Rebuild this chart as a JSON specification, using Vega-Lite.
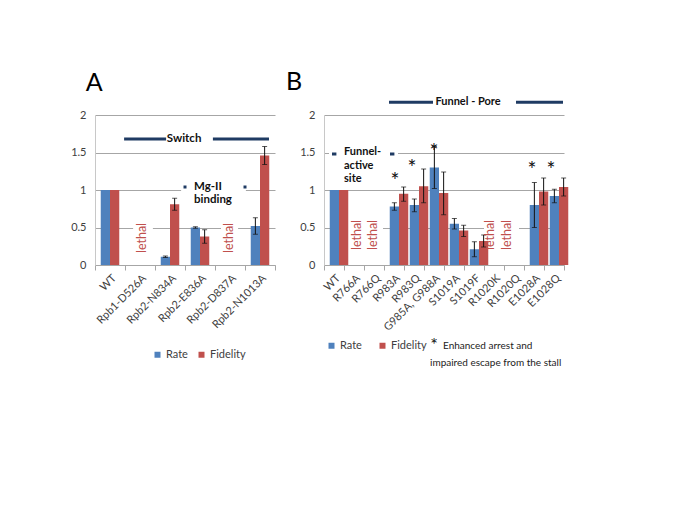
{
  "$schema": "https://vega.github.io/schema/vega-lite/v6.json",
  "padding": {"left": 70, "top": 70, "right": 5, "bottom": 5},
  "background": "white",
  "config": {
    "view": {"stroke": null},
    "font": "Lato",
    "axisY": {"values": [0, 0.5, 1, 1.5, 2], "format": "~g", "grid": true, "gridColor": "#A6A6A6", "domainColor": "#C8C8C8", "ticks": false, "labelPadding": 9, "labelFontSize": 11, "labelColor": "#404040", "title": null},
    "axisX": {"tickBand": "extent", "domainColor": "#A6A6A6", "tickColor": "#A6A6A6", "tickSize": 5, "labelAngle": -45, "labelFontSize": 11, "labelColor": "#404040", "title": null, "grid": false},
    "legend": {"padding": 0, "symbolType": "square", "symbolSize": 36, "symbolStrokeWidth": 0, "labelFontSize": 11, "labelColor": "#404040", "title": null, "orient": "none", "direction": "horizontal"}
  },
  "datasets": {
    "barsA": [
      {"mut": "WT", "series": "Rate", "value": 1},
      {"mut": "WT", "series": "Fidelity", "value": 1},
      {"mut": "Rpb2-N834A", "series": "Rate", "value": 0.11, "lo": 0.10, "hi": 0.12},
      {"mut": "Rpb2-N834A", "series": "Fidelity", "value": 0.81, "lo": 0.73, "hi": 0.89},
      {"mut": "Rpb2-E836A", "series": "Rate", "value": 0.50, "lo": 0.49, "hi": 0.51},
      {"mut": "Rpb2-E836A", "series": "Fidelity", "value": 0.38, "lo": 0.29, "hi": 0.47},
      {"mut": "Rpb2-N1013A", "series": "Rate", "value": 0.52, "lo": 0.41, "hi": 0.63},
      {"mut": "Rpb2-N1013A", "series": "Fidelity", "value": 1.46, "lo": 1.34, "hi": 1.58}
    ],
    "barsB": [
      {"mut": "WT", "series": "Rate", "value": 1},
      {"mut": "WT", "series": "Fidelity", "value": 1},
      {"mut": "R983A", "series": "Rate", "value": 0.78, "lo": 0.73, "hi": 0.83},
      {"mut": "R983A", "series": "Fidelity", "value": 0.95, "lo": 0.85, "hi": 1.04},
      {"mut": "R983Q", "series": "Rate", "value": 0.80, "lo": 0.71, "hi": 0.88},
      {"mut": "R983Q", "series": "Fidelity", "value": 1.05, "lo": 0.83, "hi": 1.28},
      {"mut": "G985A, G988A", "series": "Rate", "value": 1.30, "lo": 1.02, "hi": 1.58},
      {"mut": "G985A, G988A", "series": "Fidelity", "value": 0.96, "lo": 0.67, "hi": 1.24},
      {"mut": "S1019A", "series": "Rate", "value": 0.55, "lo": 0.48, "hi": 0.62},
      {"mut": "S1019A", "series": "Fidelity", "value": 0.46, "lo": 0.38, "hi": 0.53},
      {"mut": "S1019F", "series": "Rate", "value": 0.21, "lo": 0.11, "hi": 0.31},
      {"mut": "S1019F", "series": "Fidelity", "value": 0.32, "lo": 0.24, "hi": 0.40},
      {"mut": "E1028A", "series": "Rate", "value": 0.80, "lo": 0.50, "hi": 1.10},
      {"mut": "E1028A", "series": "Fidelity", "value": 0.98, "lo": 0.80, "hi": 1.16},
      {"mut": "E1028Q", "series": "Rate", "value": 0.92, "lo": 0.83, "hi": 1.01},
      {"mut": "E1028Q", "series": "Fidelity", "value": 1.04, "lo": 0.92, "hi": 1.16}
    ],
    "boxesA": [
      {"x": 1.27, "x2": 1.93, "y": 0.2, "y2": 0.62},
      {"x": 4.2, "x2": 4.77, "y": 0.2, "y2": 0.62},
      {"x": 2.87, "x2": 5.03, "y": 0.8, "y2": 1.15}
    ],
    "boxesB": [
      {"x": 1.1, "x2": 2.95, "y": 0.22, "y2": 0.62},
      {"x": 8.0, "x2": 9.75, "y": 0.22, "y2": 0.62},
      {"x": 0.25, "x2": 3.7, "y": 1.12, "y2": 1.62}
    ],
    "linesA": [
      {"x": 0.97, "x2": 2.37, "y": 1.68},
      {"x": 3.93, "x2": 5.8, "y": 1.68}
    ],
    "linesB": [
      {"x": 3.25, "x2": 5.45, "y": 2.17},
      {"x": 9.6, "x2": 11.95, "y": 2.17},
      {"x": 0.4, "x2": 0.62, "y": 1.48},
      {"x": 3.3, "x2": 3.52, "y": 1.48}
    ],
    "titleA": [{"t": "A", "x": -0.03, "y": 2.43}],
    "titleB": [{"t": "B", "x": -1.5, "y": 2.44}],
    "boldCenterA": [{"t": "Switch", "x": 2.97, "y": 1.68}],
    "boldLeftA": [
      {"t": "Mg-II", "x": 3.3, "y": 1.04},
      {"t": "binding", "x": 3.3, "y": 0.87}
    ],
    "dotsA": [{"x": 3.0, "y": 1.04}, {"x": 5.0, "y": 1.04}],
    "lethalA": [{"x": 1.57, "y": 0.36}, {"x": 4.47, "y": 0.36}],
    "lethalB": [{"x": 1.65, "y": 0.4}, {"x": 2.45, "y": 0.4}, {"x": 8.3, "y": 0.4}, {"x": 9.15, "y": 0.4}],
    "boldCenterB": [{"t": "Funnel - Pore", "x": 7.2, "y": 2.17}],
    "boldLeftB": [
      {"t": "Funnel-", "x": 1.0, "y": 1.51},
      {"t": "active", "x": 1.0, "y": 1.32},
      {"t": "site", "x": 1.0, "y": 1.15}
    ],
    "starsB": [
      {"x": 3.55, "y": 1.19},
      {"x": 4.4, "y": 1.36},
      {"x": 5.5, "y": 1.57},
      {"x": 10.4, "y": 1.33},
      {"x": 11.35, "y": 1.33}
    ],
    "noteStar": [{"x": 5.5, "y": -1.15}],
    "noteText": [
      {"t": "Enhanced arrest and", "x": 5.95, "y": -1.08},
      {"t": "impaired escape from the stall", "x": 5.3, "y": -1.3}
    ]
  },
  "hconcat": [
    {
      "width": 180,
      "height": 150,
      "resolve": {"scale": {"x": "independent"}},
      "layer": [
        {
          "data": {"name": "boxesA"},
          "mark": {"type": "rect", "fill": "white"},
          "encoding": {
            "x": {"field": "x", "type": "quantitative", "scale": {"domain": [0, 6], "nice": false, "zero": false}, "axis": null},
            "x2": {"field": "x2"},
            "y": {"field": "y", "type": "quantitative", "scale": {"domain": [0, 2], "nice": false}},
            "y2": {"field": "y2"}
          }
        },
        {
          "data": {"name": "barsA"},
          "encoding": {
            "x": {"field": "mut", "type": "nominal", "sort": null, "scale": {"domain": ["WT", "Rpb1-D526A", "Rpb2-N834A", "Rpb2-E836A", "Rpb2-D837A", "Rpb2-N1013A"], "paddingInner": 0, "paddingOuter": 0}},
            "xOffset": {"field": "series", "type": "nominal", "scale": {"domain": ["Rate", "Fidelity"], "paddingOuter": 0.62, "paddingInner": 0}}
          },
          "layer": [
            {
              "mark": {"type": "bar"},
              "encoding": {
                "y": {"field": "value", "type": "quantitative", "scale": {"domain": [0, 2], "nice": false}},
                "color": {"field": "series", "type": "nominal", "scale": {"domain": ["Rate", "Fidelity"], "range": ["#4F81BD", "#C0504D"]}, "legend": {"legendX": 57, "legendY": 234, "labelOffset": 3, "columnPadding": 8}}
              }
            },
            {
              "transform": [{"filter": "isValid(datum.lo)"}],
              "mark": {"type": "rule", "color": "#111111", "strokeWidth": 1},
              "encoding": {
                "y": {"field": "lo", "type": "quantitative", "scale": {"domain": [0, 2], "nice": false}},
                "y2": {"field": "hi"}
              }
            },
            {
              "transform": [{"filter": "isValid(datum.lo)"}],
              "mark": {"type": "tick", "color": "#111111", "thickness": 1, "size": 5},
              "encoding": {
                "y": {"field": "lo", "type": "quantitative", "scale": {"domain": [0, 2], "nice": false}}
              }
            },
            {
              "transform": [{"filter": "isValid(datum.lo)"}],
              "mark": {"type": "tick", "color": "#111111", "thickness": 1, "size": 5},
              "encoding": {
                "y": {"field": "hi", "type": "quantitative", "scale": {"domain": [0, 2], "nice": false}}
              }
            }
          ]
        },
        {
          "data": {"name": "linesA"},
          "mark": {"type": "rule", "color": "#1F3B63", "strokeWidth": 3},
          "encoding": {
            "x": {"field": "x", "type": "quantitative", "scale": {"domain": [0, 6], "nice": false, "zero": false}, "axis": null},
            "x2": {"field": "x2"},
            "y": {"field": "y", "type": "quantitative", "scale": {"domain": [0, 2], "nice": false}}
          }
        },
        {
          "data": {"name": "dotsA"},
          "mark": {"type": "square", "fill": "#1F3B63", "size": 9, "opacity": 1},
          "encoding": {
            "x": {"field": "x", "type": "quantitative", "scale": {"domain": [0, 6], "nice": false, "zero": false}, "axis": null},
            "y": {"field": "y", "type": "quantitative", "scale": {"domain": [0, 2], "nice": false}}
          }
        },
        {
          "data": {"name": "titleA"},
          "mark": {"type": "text", "fontSize": 25, "align": "center", "baseline": "middle", "fill": "#000000"},
          "encoding": {
            "x": {"field": "x", "type": "quantitative", "scale": {"domain": [0, 6], "nice": false, "zero": false}, "axis": null},
            "y": {"field": "y", "type": "quantitative", "scale": {"domain": [0, 2], "nice": false}},
            "text": {"field": "t"}
          }
        },
        {
          "data": {"name": "boldCenterA"},
          "mark": {"type": "text", "fontSize": 11.5, "fontWeight": "bold", "align": "center", "baseline": "middle", "fill": "#111111"},
          "encoding": {
            "x": {"field": "x", "type": "quantitative", "scale": {"domain": [0, 6], "nice": false, "zero": false}, "axis": null},
            "y": {"field": "y", "type": "quantitative", "scale": {"domain": [0, 2], "nice": false}},
            "text": {"field": "t"}
          }
        },
        {
          "data": {"name": "boldLeftA"},
          "mark": {"type": "text", "fontSize": 11.5, "fontWeight": "bold", "align": "left", "baseline": "middle", "fill": "#111111"},
          "encoding": {
            "x": {"field": "x", "type": "quantitative", "scale": {"domain": [0, 6], "nice": false, "zero": false}, "axis": null},
            "y": {"field": "y", "type": "quantitative", "scale": {"domain": [0, 2], "nice": false}},
            "text": {"field": "t"}
          }
        },
        {
          "data": {"name": "lethalA"},
          "mark": {"type": "text", "text": "lethal", "fontSize": 12.5, "angle": 270, "align": "center", "baseline": "middle", "fill": "#C0504D"},
          "encoding": {
            "x": {"field": "x", "type": "quantitative", "scale": {"domain": [0, 6], "nice": false, "zero": false}, "axis": null},
            "y": {"field": "y", "type": "quantitative", "scale": {"domain": [0, 2], "nice": false}}
          }
        }
      ]
    },
    {
      "width": 240,
      "height": 150,
      "resolve": {"scale": {"x": "independent"}},
      "layer": [
        {
          "data": {"name": "boxesB"},
          "mark": {"type": "rect", "fill": "white"},
          "encoding": {
            "x": {"field": "x", "type": "quantitative", "scale": {"domain": [0, 12], "nice": false, "zero": false}, "axis": null},
            "x2": {"field": "x2"},
            "y": {"field": "y", "type": "quantitative", "scale": {"domain": [0, 2], "nice": false}},
            "y2": {"field": "y2"}
          }
        },
        {
          "data": {"name": "barsB"},
          "encoding": {
            "x": {"field": "mut", "type": "nominal", "sort": null, "scale": {"domain": ["WT", "R766A", "R766Q", "R983A", "R983Q", "G985A, G988A", "S1019A", "S1019F", "R1020K", "R1020Q", "E1028A", "E1028Q"], "paddingInner": 0, "paddingOuter": 0}},
            "xOffset": {"field": "series", "type": "nominal", "scale": {"domain": ["Rate", "Fidelity"], "paddingOuter": 0.67, "paddingInner": 0}}
          },
          "layer": [
            {
              "mark": {"type": "bar"},
              "encoding": {
                "y": {"field": "value", "type": "quantitative", "scale": {"domain": [0, 2], "nice": false}},
                "color": {"field": "series", "type": "nominal", "scale": {"domain": ["Rate", "Fidelity"], "range": ["#4F81BD", "#C0504D"]}, "legend": {"legendX": 2, "legendY": 225, "labelOffset": 3, "columnPadding": 15}}
              }
            },
            {
              "transform": [{"filter": "isValid(datum.lo)"}],
              "mark": {"type": "rule", "color": "#111111", "strokeWidth": 1},
              "encoding": {
                "y": {"field": "lo", "type": "quantitative", "scale": {"domain": [0, 2], "nice": false}},
                "y2": {"field": "hi"}
              }
            },
            {
              "transform": [{"filter": "isValid(datum.lo)"}],
              "mark": {"type": "tick", "color": "#111111", "thickness": 1, "size": 5},
              "encoding": {
                "y": {"field": "lo", "type": "quantitative", "scale": {"domain": [0, 2], "nice": false}}
              }
            },
            {
              "transform": [{"filter": "isValid(datum.lo)"}],
              "mark": {"type": "tick", "color": "#111111", "thickness": 1, "size": 5},
              "encoding": {
                "y": {"field": "hi", "type": "quantitative", "scale": {"domain": [0, 2], "nice": false}}
              }
            }
          ]
        },
        {
          "data": {"name": "linesB"},
          "mark": {"type": "rule", "color": "#1F3B63", "strokeWidth": 3},
          "encoding": {
            "x": {"field": "x", "type": "quantitative", "scale": {"domain": [0, 12], "nice": false, "zero": false}, "axis": null},
            "x2": {"field": "x2"},
            "y": {"field": "y", "type": "quantitative", "scale": {"domain": [0, 2], "nice": false}}
          }
        },
        {
          "data": {"name": "titleB"},
          "mark": {"type": "text", "fontSize": 25, "align": "center", "baseline": "middle", "fill": "#000000"},
          "encoding": {
            "x": {"field": "x", "type": "quantitative", "scale": {"domain": [0, 12], "nice": false, "zero": false}, "axis": null},
            "y": {"field": "y", "type": "quantitative", "scale": {"domain": [0, 2], "nice": false}},
            "text": {"field": "t"}
          }
        },
        {
          "data": {"name": "boldCenterB"},
          "mark": {"type": "text", "fontSize": 11, "fontWeight": "bold", "align": "center", "baseline": "middle", "fill": "#111111"},
          "encoding": {
            "x": {"field": "x", "type": "quantitative", "scale": {"domain": [0, 12], "nice": false, "zero": false}, "axis": null},
            "y": {"field": "y", "type": "quantitative", "scale": {"domain": [0, 2], "nice": false}},
            "text": {"field": "t"}
          }
        },
        {
          "data": {"name": "boldLeftB"},
          "mark": {"type": "text", "fontSize": 11, "fontWeight": "bold", "align": "left", "baseline": "middle", "fill": "#111111"},
          "encoding": {
            "x": {"field": "x", "type": "quantitative", "scale": {"domain": [0, 12], "nice": false, "zero": false}, "axis": null},
            "y": {"field": "y", "type": "quantitative", "scale": {"domain": [0, 2], "nice": false}},
            "text": {"field": "t"}
          }
        },
        {
          "data": {"name": "lethalB"},
          "mark": {"type": "text", "text": "lethal", "fontSize": 12.5, "angle": 270, "align": "center", "baseline": "middle", "fill": "#C0504D"},
          "encoding": {
            "x": {"field": "x", "type": "quantitative", "scale": {"domain": [0, 12], "nice": false, "zero": false}, "axis": null},
            "y": {"field": "y", "type": "quantitative", "scale": {"domain": [0, 2], "nice": false}}
          }
        },
        {
          "data": {"name": "starsB"},
          "mark": {"type": "text", "text": "*", "fontSize": 21, "align": "center", "baseline": "middle", "dy": 6, "fill": "#111111"},
          "encoding": {
            "x": {"field": "x", "type": "quantitative", "scale": {"domain": [0, 12], "nice": false, "zero": false}, "axis": null},
            "y": {"field": "y", "type": "quantitative", "scale": {"domain": [0, 2], "nice": false}}
          }
        },
        {
          "data": {"name": "noteStar"},
          "mark": {"type": "text", "text": "*", "fontSize": 18, "align": "center", "baseline": "alphabetic", "fill": "#111111"},
          "encoding": {
            "x": {"field": "x", "type": "quantitative", "scale": {"domain": [0, 12], "nice": false, "zero": false}, "axis": null},
            "y": {"field": "y", "type": "quantitative", "scale": {"domain": [0, 2], "nice": false}}
          }
        },
        {
          "data": {"name": "noteText"},
          "mark": {"type": "text", "fontSize": 10, "align": "left", "baseline": "middle", "fill": "#222222"},
          "encoding": {
            "x": {"field": "x", "type": "quantitative", "scale": {"domain": [0, 12], "nice": false, "zero": false}, "axis": null},
            "y": {"field": "y", "type": "quantitative", "scale": {"domain": [0, 2], "nice": false}},
            "text": {"field": "t"}
          }
        }
      ]
    }
  ],
  "spacing": 49,
  "bounds": "flush",
  "resolve": {"legend": {"color": "independent"}, "scale": {"color": "independent"}}
}
